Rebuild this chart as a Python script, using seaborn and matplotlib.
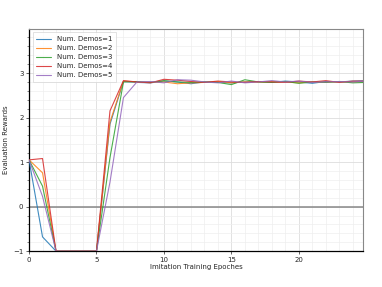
import matplotlib
matplotlib.use("Agg")
import matplotlib.pyplot as plt
from matplotlib.ticker import MultipleLocator
import seaborn as sns
import pandas as pd
import numpy as np

epochs = list(range(26))
demos1 = [1.05, -0.68, -1.0, -1.0, -1.0, -1.0, 1.85, 2.81, 2.79, 2.78, 2.82, 2.80, 2.76, 2.80, 2.79, 2.78, 2.80, 2.81, 2.79, 2.82, 2.80, 2.77, 2.81, 2.80, 2.82, 2.83]
demos2 = [1.05, 0.76, -1.0, -1.0, -1.0, -1.0, 1.90, 2.82, 2.80, 2.79, 2.80, 2.76, 2.78, 2.79, 2.81, 2.78, 2.80, 2.79, 2.81, 2.80, 2.78, 2.80, 2.79, 2.81, 2.80, 2.81]
demos3 = [1.05, 0.46, -1.0, -1.0, -1.0, -1.0, 1.10, 2.80, 2.81, 2.79, 2.83, 2.80, 2.79, 2.80, 2.79, 2.74, 2.85, 2.80, 2.79, 2.81, 2.77, 2.80, 2.79, 2.81, 2.78, 2.79]
demos4 = [1.05, 1.08, -1.0, -1.0, -1.0, -1.0, 2.15, 2.83, 2.80, 2.78, 2.86, 2.84, 2.81, 2.79, 2.82, 2.80, 2.79, 2.81, 2.80, 2.79, 2.82, 2.80, 2.83, 2.79, 2.82, 2.82]
demos5 = [1.05, 0.23, -1.0, -1.0, -1.0, -1.0, 0.55, 2.45, 2.80, 2.81, 2.78, 2.85, 2.84, 2.80, 2.78, 2.82, 2.78, 2.80, 2.83, 2.80, 2.82, 2.79, 2.80, 2.81, 2.80, 2.82]
labels = ["Num. Demos=1", "Num. Demos=2", "Num. Demos=3", "Num. Demos=4", "Num. Demos=5"]

frames = []
for lab, vals in zip(labels, [demos1, demos2, demos3, demos4, demos5]):
    frames.append(pd.DataFrame({"epoch": epochs, "reward": vals, "series": lab}))
df = pd.concat(frames, ignore_index=True)

sns.set_style("white")
plt.rcParams['font.family'] = ['DejaVu Sans']

fig = plt.figure(figsize=(3.82, 2.87), dpi=100)
ax = fig.add_axes([0.076, 0.125, 0.874, 0.774])

ax.grid(True, which="major", color="#dddddd", linewidth=0.6)
ax.grid(True, which="minor", color="#eeeeee", linewidth=0.5)
ax.set_axisbelow(True)
ax.axhline(0, color="#888888", linewidth=1.1, zorder=1)

palette = sns.color_palette("tab10", 5)
sns.lineplot(data=df, x="epoch", y="reward", hue="series", palette=palette,
             linewidth=0.8, alpha=0.85, ax=ax, zorder=3)

ax.set_xlim(0, 24.75)
ax.set_ylim(-1, 3.99)
ax.xaxis.set_major_locator(MultipleLocator(5))
ax.xaxis.set_minor_locator(MultipleLocator(1))
ax.yaxis.set_major_locator(MultipleLocator(1))
ax.yaxis.set_minor_locator(MultipleLocator(0.2))
ax.tick_params(axis="both", which="major", labelsize=5, length=2.5, width=0.5, pad=1.5, left=True, bottom=True)
ax.tick_params(axis="y", which="minor", length=1.5, width=0.4, left=True)
ax.tick_params(axis="x", which="minor", length=0)

for s in ["left", "bottom"]:
    ax.spines[s].set_color("black")
    ax.spines[s].set_linewidth(0.9)
for s in ["top", "right"]:
    ax.spines[s].set_color("#888888")
    ax.spines[s].set_linewidth(0.8)

ax.set_xlabel("Imitation Training Epoches", fontsize=5, labelpad=1)
ax.set_ylabel("Evaluation Rewards", fontsize=5, labelpad=3)

leg = ax.legend(loc="upper left", fontsize=5, frameon=True, handlelength=2.2,
                borderpad=0.5, labelspacing=0.45, fancybox=False)
leg.get_frame().set_edgecolor("#cccccc")
leg.get_frame().set_linewidth(0.5)
for l in leg.get_lines():
    l.set_alpha(0.85)

fig.savefig("out.png", dpi=100)
